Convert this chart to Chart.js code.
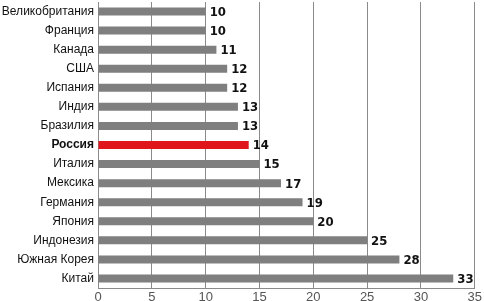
<!DOCTYPE html>
<html><head><meta charset="utf-8">
<script src="https://cdn.jsdelivr.net/npm/chart.js@4/dist/chart.umd.min.js"></script>
<style>html,body{margin:0;padding:0;background:#fff;}canvas{display:block;}</style>
</head><body>
<canvas id="c" width="484" height="301"></canvas>
<script>
const categories = ["Великобритания","Франция","Канада","США","Испания","Индия","Бразилия","Россия","Италия","Мексика","Германия","Япония","Индонезия","Южная Корея","Китай"];
const values = [10,10,11,12,12,13,13,14,15,17,19,20,25,28,33];
const highlight = "Россия";
const xTicks = [0,5,10,15,20,25,30,35];

const barColors = categories.map(c => c === highlight ? "#e0161d" : "#7f7f7f");

const valueLabels = {
  id: "valueLabels",
  afterDatasetsDraw(chart) {
    const ctx = chart.ctx;
    const meta = chart.getDatasetMeta(0);
    ctx.save();
    ctx.font = "bold 13px 'DejaVu Sans Condensed', 'Liberation Sans Narrow', sans-serif";
    ctx.fillStyle = "#111";
    ctx.textBaseline = "middle";
    ctx.textAlign = "left";
    meta.data.forEach((bar, i) => {
      ctx.fillText(String(values[i]), bar.x + 4, bar.y + 1);
    });
    ctx.restore();
  }
};

new Chart(document.getElementById("c"), {
  type: "bar",
  data: {
    labels: categories,
    datasets: [{
      data: values,
      backgroundColor: barColors,
      borderWidth: 0,
      categoryPercentage: 1,
      barPercentage: 0.42
    }]
  },
  options: {
    indexAxis: "y",
    responsive: false,
    animation: false,
    events: [],
    layout: { padding: { top: 2, right: 8, bottom: 0, left: 0 } },
    plugins: { legend: { display: false }, tooltip: { enabled: false } },
    scales: {
      x: {
        min: 0, max: 35,
        afterBuildTicks(scale) { scale.ticks = xTicks.map(v => ({ value: v })); },
        afterFit(scale) { scale.height = 13; },
        grid: { color: "#8a8a8a", lineWidth: 1, tickLength: 0, drawTicks: false },
        border: { display: true, color: "#8a8a8a" },
        ticks: { color: "#555", padding: 2, font: { family: "Arial, 'Liberation Sans', sans-serif", size: 13 } }
      },
      y: {
        afterFit(scale) { scale.width = 98; scale.paddingTop = 0; scale.paddingBottom = 0; },
        grid: { display: false, drawTicks: false },
        border: { display: true, color: "#8a8a8a" },
        ticks: {
          color: "#111",
          padding: 4,
          font: (ctx) => ({
            family: "Arial, 'Liberation Sans', sans-serif",
            size: 12,
            weight: categories[ctx.index] === highlight ? "bold" : "normal"
          })
        }
      }
    }
  },
  plugins: [valueLabels]
});
</script>
</body></html>
